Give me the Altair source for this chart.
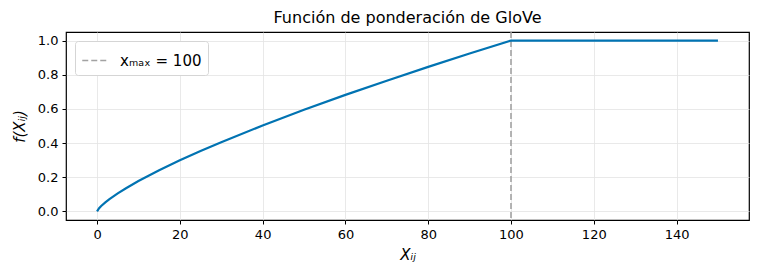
import altair as alt
import pandas as pd

# values
x_vals = [0, 0.5, 1, 2, 3, 5, 7, 10, 15, 20, 25, 30, 40, 50, 60, 70, 80, 90, 100, 110, 120, 130, 140, 150]
f_vals = [0.0, 0.019, 0.032, 0.053, 0.072, 0.106, 0.136, 0.178, 0.241, 0.299, 0.354, 0.405, 0.503, 0.595, 0.682, 0.765, 0.846, 0.924, 1.0, 1.0, 1.0, 1.0, 1.0, 1.0]
x_max = [100]
legend_label = ["xₘₐₓ = 100"]

df = pd.DataFrame({"x": x_vals, "f": f_vals})
df_v = pd.DataFrame({"x": x_max, "label": legend_label})

font = "DejaVu Sans"
xscale = alt.Scale(domain=[-7.5, 157.5], nice=False, zero=False)
yscale = alt.Scale(domain=[-0.05, 1.05], nice=False, zero=False)

xaxis = alt.Axis(values=[0, 20, 40, 60, 80, 100, 120, 140], title="Xᵢⱼ",
                 titleFont=font, titleFontSize=15, titleFontStyle="italic", titleFontWeight="normal",
                 titleColor="black", titlePadding=6,
                 labelFont=font, labelFontSize=13, labelColor="black", labelPadding=4,
                 tickColor="black", tickSize=4, domain=False,
                 grid=True, gridColor="#e3e3e3", gridWidth=0.8)
yaxis = alt.Axis(values=[0, 0.2, 0.4, 0.6, 0.8, 1.0], format=".1f", title="f(Xᵢⱼ)",
                 titleFont=font, titleFontSize=15, titleFontStyle="italic", titleFontWeight="normal",
                 titleColor="black", titlePadding=10,
                 labelFont=font, labelFontSize=13, labelColor="black", labelPadding=4,
                 tickColor="black", tickSize=4, domain=False,
                 grid=True, gridColor="#e3e3e3", gridWidth=0.8)

line = alt.Chart(df).mark_line(color="#0173b2", strokeWidth=2.2, clip=True).encode(
    x=alt.X("x:Q", scale=xscale, axis=xaxis),
    y=alt.Y("f:Q", scale=yscale, axis=yaxis),
)

vline = alt.Chart(df_v).mark_rule(strokeDash=[6, 3], strokeWidth=1.6, opacity=0.9).encode(
    x=alt.X("x:Q", scale=xscale),
    color=alt.Color("label:N", scale=alt.Scale(range=["#999999"]),
                    legend=alt.Legend(title=None, orient="none", legendX=9, legendY=9,
                                      symbolType="stroke", symbolDash=[6, 3], symbolStrokeWidth=1.6,
                                      symbolSize=600, symbolOpacity=0.9,
                                      labelFont=font, labelFontSize=15, labelFontStyle="normal",
                                      labelColor="black", labelOffset=12,
                                      strokeColor="#d5d5d5", fillColor="white", cornerRadius=3,
                                      padding=6)),
)

chart = alt.layer(vline, line).properties(
    width=683, height=188,
    background="white",
    title=alt.TitleParams("Función de ponderación de GloVe", font=font, fontSize=16,
                          fontWeight="normal", color="black", anchor="middle", offset=5),
    autosize=alt.AutoSizeParams(type="none"),
    padding={"left": 66, "top": 32, "right": 9, "bottom": 58},
).configure_view(stroke="black", strokeWidth=1.2)

chart.save("out.html", embed_options={"renderer": "svg", "actions": False})
